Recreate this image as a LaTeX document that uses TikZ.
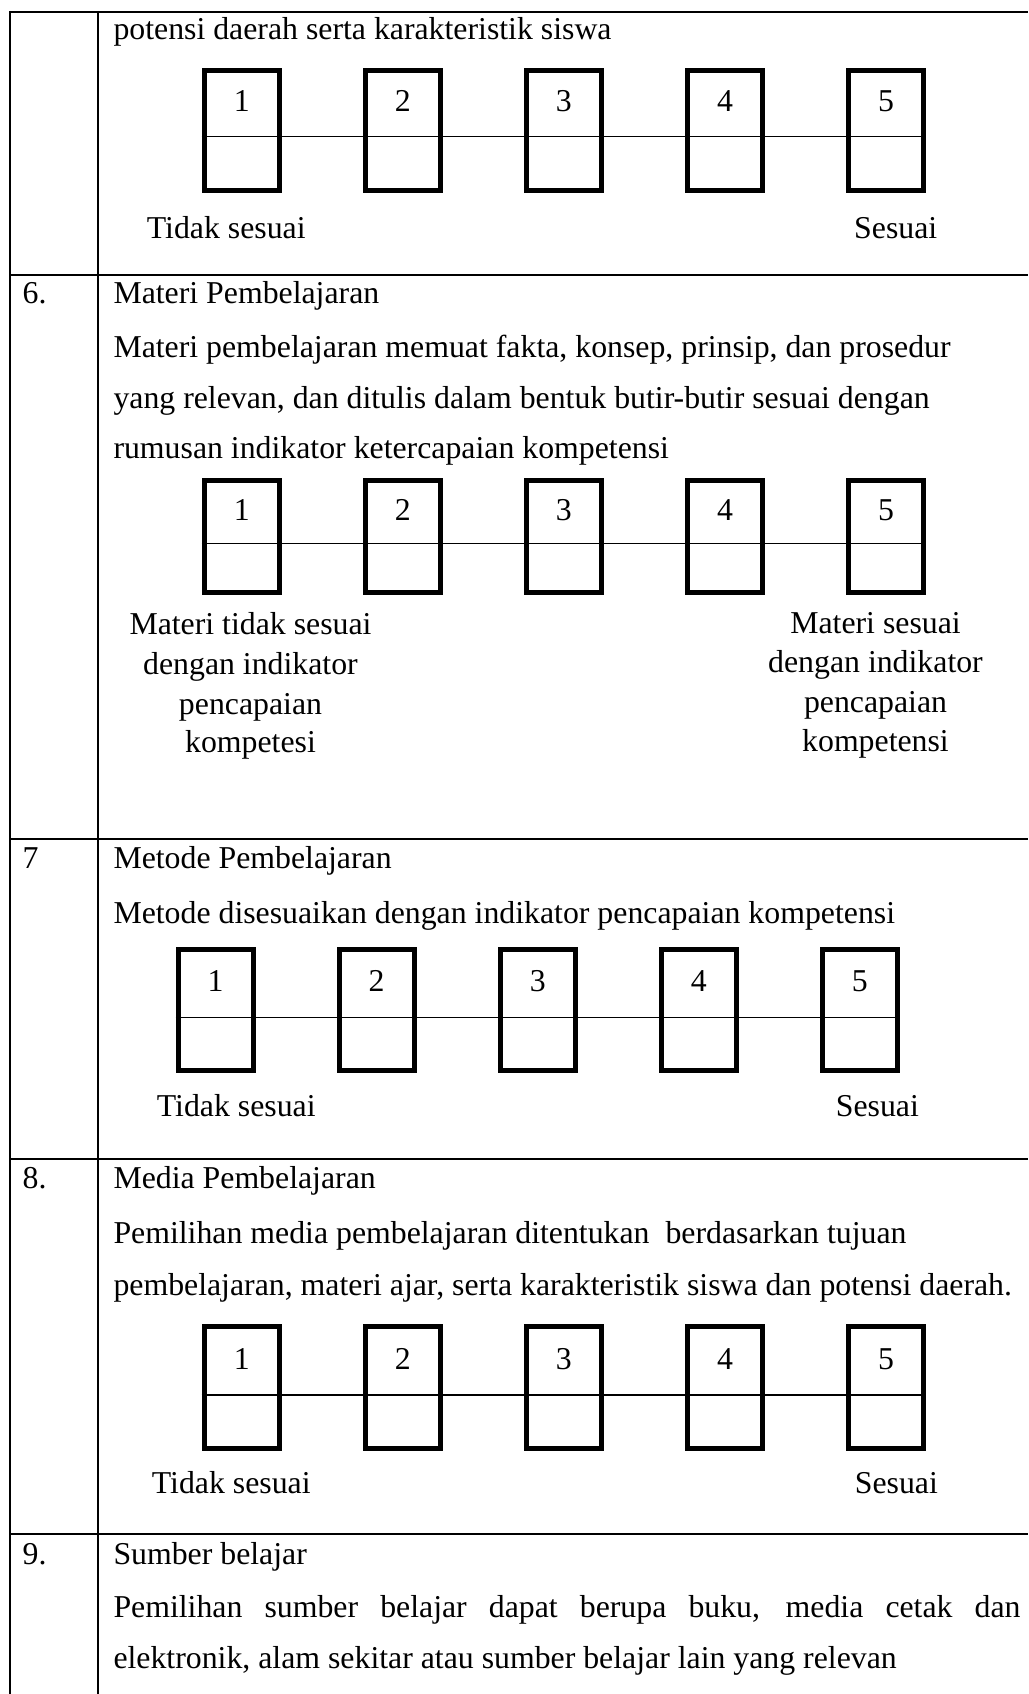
\documentclass[tikz,border=0pt]{standalone}
\usepackage{fontspec}
\setmainfont{Liberation Serif}
\newcommand\bodyfont{\fontsize{31.8}{39}\selectfont}
\newcommand\likertrow[6]{%
  \foreach \i in {1,...,5}{%
    \node[scalebox, minimum height=#4] (#1b\i) at ({#2+(\i-1)*161.1}, #3) {};
    \node[numtxt] (#1n\i) at ({#2+(\i-1)*161.1}, #6) {\i};
  }
  \coordinate (#1l) at (#1b1.west |- 0,#5);
  \coordinate (#1r) at (#1b5.east |- 0,#5);
  \draw[scaleline] (#1l) -- (#1r);
}
\begin{document}
\begin{tikzpicture}[x=1pt,y=-1pt,
  txt/.style={inner sep=0pt, anchor=base west, font=\bodyfont},
  ctxt/.style={inner sep=0pt, anchor=base, font=\bodyfont},
  numtxt/.style={inner sep=0pt, anchor=base, font=\bodyfont},
  grid/.style={line width=2pt},
  scalebox/.style={draw, line width=5pt, minimum width=75pt, inner sep=0pt},
  scaleline/.style={line width=1.3pt}]
\useasboundingbox (0,0) rectangle (1028,1694);
\fill[white] (0,0) rectangle (1028,1694);

% table grid
\draw[grid] (10,12) -- (1028,12);
\draw[grid] (10,11) -- (10,1694);
\draw[grid] (97.7,11) -- (97.7,1694);
\draw[grid] (10,275) -- (1028,275);
\draw[grid] (10,839) -- (1028,839);
\draw[grid] (10,1159) -- (1028,1159);
\draw[grid] (10,1534) -- (1028,1534);

% row 5 (continued)
\node[txt] (t5a) at (113.3,40) {potensi daerah serta karakteristik siswa};
\likertrow{r5}{241.7}{130.5}{120.5pt}{136.7}{111.7}
\node[txt] (r5lo) at (146.7,238) {Tidak sesuai};
\node[txt] (r5hi) at (854,238) {Sesuai};

% row 6
\node[txt] (n6) at (22.5,303) {6.};
\node[txt] (t6a) at (113.3,303) {Materi Pembelajaran};
\node[txt] (t6b) at (113.3,357) {Materi pembelajaran memuat fakta, konsep, prinsip, dan prosedur};
\node[txt] (t6c) at (113.3,408) {yang relevan, dan ditulis dalam bentuk butir-butir sesuai dengan};
\node[txt] (t6d) at (113.3,458) {rumusan indikator ketercapaian kompetensi};
\likertrow{r6}{241.7}{536.3}{112.5pt}{543.3}{520}
\node[ctxt] (r6lo1) at (250.5,634) {Materi tidak sesuai};
\node[ctxt] (r6lo2) at (250.5,674) {dengan indikator};
\node[ctxt] (r6lo3) at (250.5,714) {pencapaian};
\node[ctxt] (r6lo4) at (250.5,752.5) {kompetesi};
\node[ctxt] (r6hi1) at (875.5,633) {Materi sesuai};
\node[ctxt] (r6hi2) at (875.5,672) {dengan indikator};
\node[ctxt] (r6hi3) at (875.5,712) {pencapaian};
\node[ctxt] (r6hi4) at (875.5,751.5) {kompetensi};

% row 7
\node[txt] (n7) at (22.5,868) {7};
\node[txt] (t7a) at (113.3,868) {Metode Pembelajaran};
\node[txt] (t7b) at (113.3,923) {Metode disesuaikan dengan indikator pencapaian kompetensi};
\likertrow{r7}{215.5}{1010}{121.5pt}{1017.3}{991.7}
\node[txt] (r7lo) at (156.7,1116.7) {Tidak sesuai};
\node[txt] (r7hi) at (835.7,1116.7) {Sesuai};

% row 8
\node[txt] (n8) at (22.5,1188.3) {8.};
\node[txt] (t8a) at (113.3,1188.3) {Media Pembelajaran};
\node[txt] (t8b) at (113.3,1243.3) {Pemilihan media pembelajaran ditentukan\ \ berdasarkan tujuan};
\node[txt] (t8c) at (113.3,1295) {pembelajaran, materi ajar, serta karakteristik siswa dan potensi daerah.};
\likertrow{r8}{241.7}{1387.5}{121.5pt}{1395}{1369}
\node[txt] (r8lo) at (151.7,1493.3) {Tidak sesuai};
\node[txt] (r8hi) at (854.7,1493.3) {Sesuai};

% row 9
\node[txt] (n9) at (22.5,1564) {9.};
\node[txt] (t9a) at (113.3,1564) {Sumber belajar};
\node[txt] (t9b) at (113.3,1617) {\makebox[907pt][s]{Pemilihan sumber belajar dapat berupa buku, media cetak dan}};
\node[txt] (t9c) at (113.3,1668) {elektronik, alam sekitar atau sumber belajar lain yang relevan};
\end{tikzpicture}
\end{document}
